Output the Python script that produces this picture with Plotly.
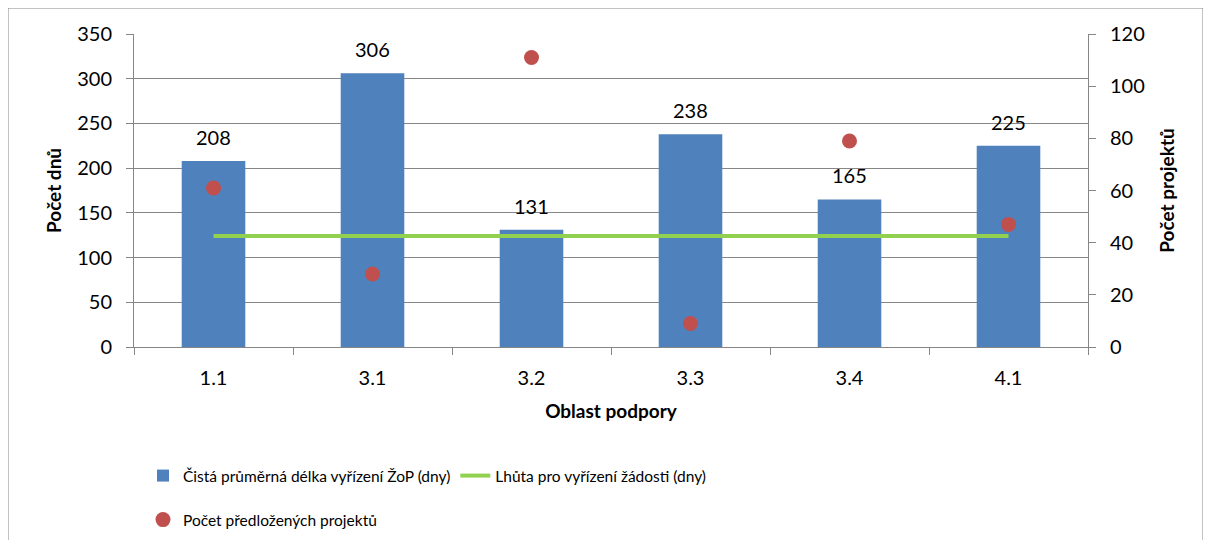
import plotly.graph_objects as go

categories = ["1.1", "3.1", "3.2", "3.3", "3.4", "4.1"]
avg_days = [208, 306, 131, 238, 165, 225]
deadline_days = [124, 124, 124, 124, 124, 124]
projects = [61, 28, 111, 9, 79, 47]

FONT = "Lato, Carlito, 'Open Sans', sans-serif"
OFF = 8  # page body margin
W, H = 1203, 532
L, T = 134 - OFF, 34 - OFF
PB, PR = 347 - OFF, 1088 - OFF
R, B = W - PR, H - PB
pw, ph = W - L - R, H - T - B

def px_x(x):
    return (x - OFF - L) / pw

def px_y(y):
    return (PB - (y - OFF)) / ph

fig = go.Figure()
fig.add_trace(go.Bar(
    x=categories, y=avg_days, name="Čistá průměrná délka vyřízení ŽoP (dny)",
    marker=dict(color="#4F81BD", line=dict(width=0)),
    legend="legend",
))
fig.add_trace(go.Scatter(
    x=categories, y=deadline_days, name="Lhůta pro vyřízení žádosti (dny)",
    mode="lines", line=dict(color="#92D050", width=4), legend="legend",
))
fig.add_trace(go.Scatter(
    x=categories, y=projects, name="Počet předložených projektů",
    mode="markers", marker=dict(color="#C0504D", size=15), yaxis="y2",
    legend="legend2",
))

# data labels (category axis: annotation x given as category index)
for i, v in enumerate(avg_days):
    fig.add_annotation(x=i, y=v, xref="x", yref="y", text=str(v), showarrow=False,
                       yanchor="bottom", yshift=10,
                       font=dict(family=FONT, size=20, color="#000000"))

axis_gray = "#868686"
fig.update_layout(
    width=W, height=H,
    margin=dict(l=L, r=R, t=T, b=B, autoexpand=False),
    paper_bgcolor="white", plot_bgcolor="white",
    font=dict(family=FONT, size=20, color="#000000"),
    bargap=0.6,
    showlegend=True,
    xaxis=dict(
        type="category", tickson="boundaries", ticks="outside", ticklen=7,
        tickcolor=axis_gray, showline=True, linecolor=axis_gray, linewidth=1,
        showgrid=False, tickfont=dict(size=20), ticklabelstandoff=13,
        automargin=False,
        title=dict(text="<b>Oblast podpory</b>", font=dict(size=19), standoff=16),
    ),
    yaxis=dict(
        range=[0, 350], dtick=50, tickmode="linear", ticks="outside", ticklen=7,
        tickcolor=axis_gray, showline=True, linecolor=axis_gray,
        showgrid=True, gridcolor=axis_gray, gridwidth=1, zeroline=False,
        tickfont=dict(size=20), ticklabelstandoff=10, automargin=False,
        title=dict(text="<b>Počet dnů</b>", font=dict(size=19), standoff=10),
    ),
    yaxis2=dict(
        range=[0, 120], dtick=20, tickmode="linear", overlaying="y", side="right",
        ticks="outside", ticklen=7, tickcolor=axis_gray, showline=True,
        linecolor=axis_gray, showgrid=False, zeroline=False, tickfont=dict(size=20),
        ticklabelstandoff=10, automargin=False,
        title=dict(text="<b>Počet projektů</b>", font=dict(size=19), standoff=16),
    ),
    legend=dict(
        orientation="h", x=px_x(143), y=px_y(459), xanchor="left", yanchor="top",
        font=dict(family=FONT, size=15.5), bgcolor="rgba(0,0,0,0)", itemwidth=30,
    ),
    legend2=dict(
        orientation="h", x=px_x(143), y=px_y(503), xanchor="left", yanchor="top",
        font=dict(family=FONT, size=15.5), bgcolor="rgba(0,0,0,0)", itemwidth=30,
    ),
    shapes=[dict(
        type="rect", xref="paper", yref="paper",
        x0=px_x(8), x1=px_x(1203), y0=px_y(620), y1=px_y(8),
        line=dict(color=axis_gray, width=1), fillcolor="rgba(0,0,0,0)", layer="below",
    )],
)

fig.write_html("out.html")
